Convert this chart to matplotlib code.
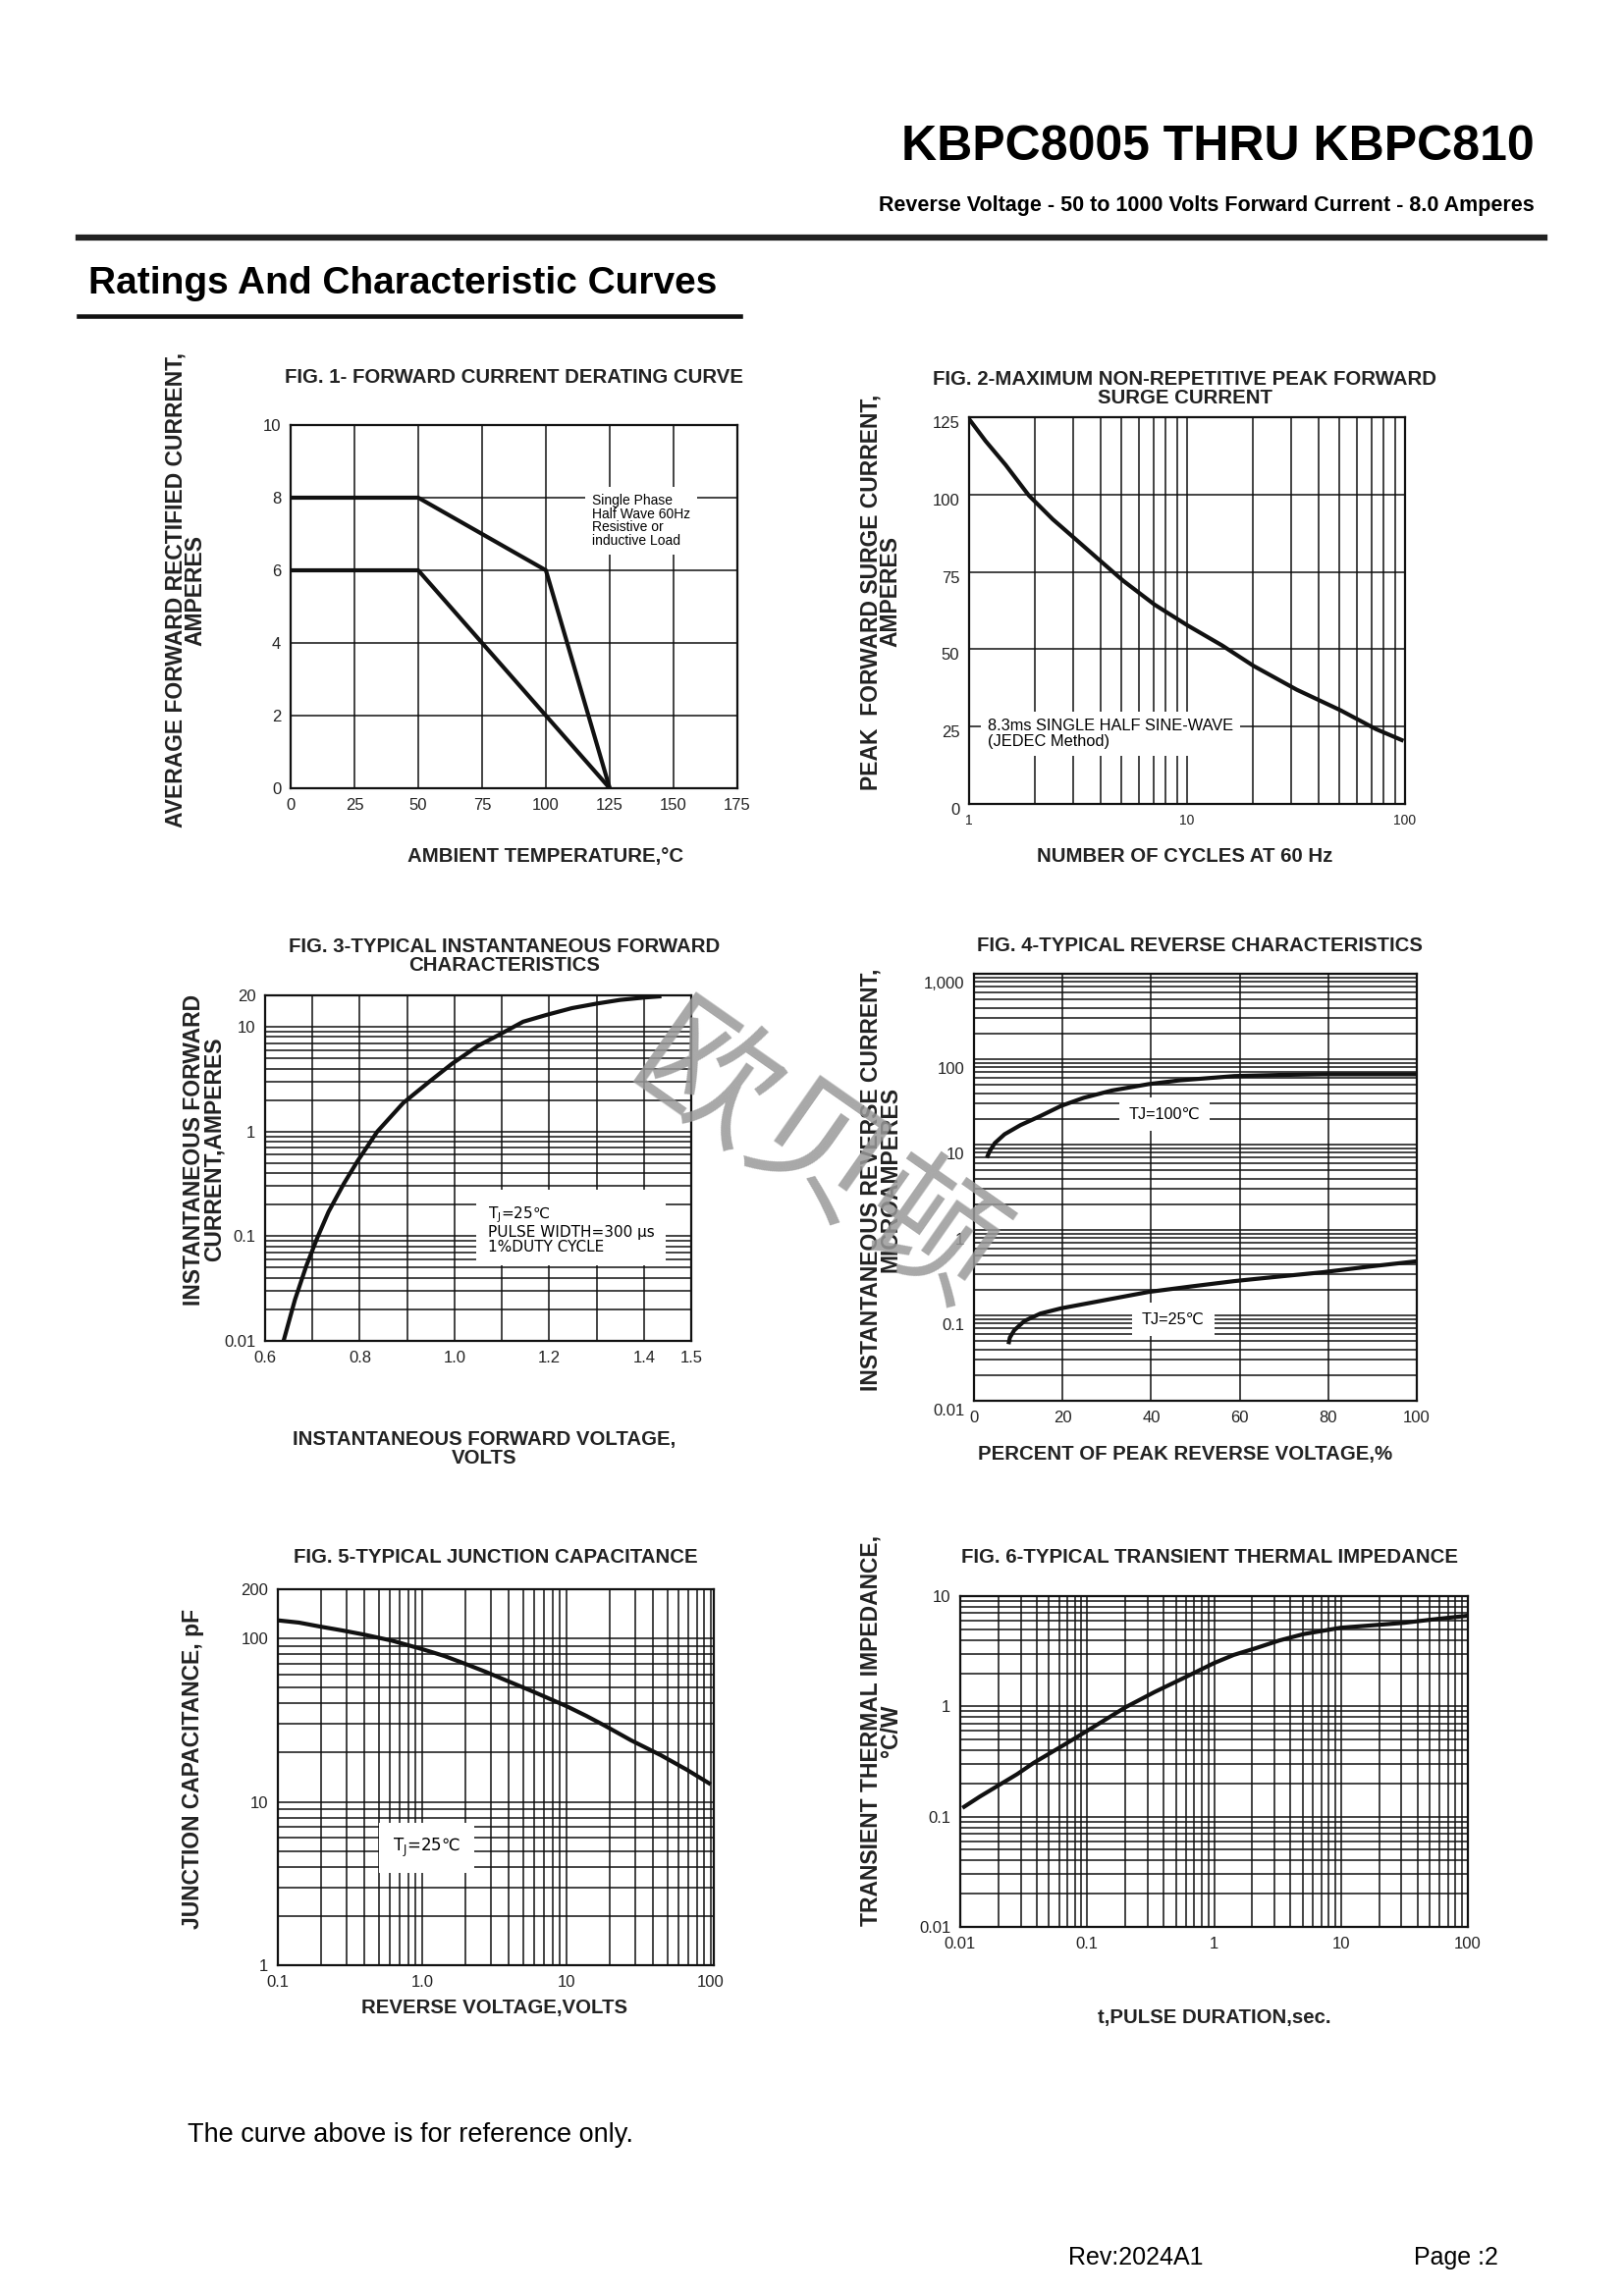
import numpy as np
import matplotlib
matplotlib.use("Agg")
import matplotlib.pyplot as plt
from matplotlib.lines import Line2D
from matplotlib.ticker import LogLocator, NullFormatter, FixedLocator
from matplotlib.transforms import ScaledTranslation

plt.rcParams['font.family'] = ['Liberation Sans', 'DejaVu Sans']

W, H = 1653, 2339

# ---- data ----
# Fig.1 derating
temp_a = [0, 50, 100, 125]
amps_a = [8, 8, 6, 0]
temp_b = [0, 50, 125]
amps_b = [6, 6, 0]
fig1_xticks = [0, 25, 50, 75, 100, 125, 150, 175]
fig1_yticks = [0, 2, 4, 6, 8, 10]

# Fig.2 surge current
cycles = [1, 1.19, 1.47, 1.88, 2.42, 3.1, 3.98, 5.1, 7.1, 10, 14.5, 20.2, 31.9, 50.5, 73.5, 98.4]
surge = [124.4, 117.3, 109.6, 99.7, 92, 85.4, 78.7, 72.1, 64.4, 57.8, 51.2, 44.6, 36.9, 30.3, 24.2, 20.4]
fig2_xticks = [1, 10, 100]
fig2_yticks = [0, 25, 50, 75, 100, 125]

# Fig.3 forward characteristics
vf = [0.639, 0.663, 0.687, 0.710, 0.734, 0.766, 0.795, 0.837, 0.892, 0.947, 0.995,
      1.05, 1.092, 1.145, 1.194, 1.248, 1.301, 1.35, 1.403, 1.437]
if_amps = [0.01, 0.0247, 0.052, 0.096, 0.171, 0.316, 0.52, 1.0, 1.88, 3.0, 4.45,
           6.6, 8.3, 11.2, 13, 15.1, 16.7, 18.1, 19.1, 19.6]
fig3_xticks = [0.6, 0.8, 1.0, 1.2, 1.4, 1.5]
fig3_xgrid = [0.7, 0.9, 1.1, 1.3]
fig3_yticks = [0.01, 0.1, 1, 10, 20]
fig3_ylabels = ['0.01', '0.1', '1', '10', '20']

# Fig.4 reverse characteristics
pct_100 = [2.9, 3.5, 4.7, 6.9, 10.5, 15.0, 19.7, 24.8, 31.1, 39.4, 46.3, 58.8, 68.7, 78.8, 100]
ir_100 = [7.0, 8.3, 10.4, 13.2, 16.9, 21.6, 28.4, 35.3, 42.9, 51, 56.4, 63.4, 65.3, 66.5, 66.5]
pct_25 = [7.8, 8.1, 9.1, 11.4, 15.0, 19.7, 28.4, 39.4, 49, 58.8, 68.7, 78.8, 89.3, 100]
ir_25 = [0.046, 0.055, 0.067, 0.086, 0.105, 0.121, 0.147, 0.188, 0.218, 0.252, 0.284, 0.32, 0.373, 0.43]
fig4_xticks = [0, 20, 40, 60, 80, 100]
fig4_yticks = [0.01, 0.1, 1, 10, 100, 1000]
fig4_ylabels = ['0.01', '0.1', '1', '10', '100', '1,000']

# Fig.5 junction capacitance
vr = [0.1, 0.14, 0.198, 0.278, 0.386, 0.621, 1.0, 1.43, 1.98, 2.75, 3.7, 5.96, 10,
      13.7, 18.5, 28, 45, 68.4, 100]
cj = [129, 125, 118, 112, 106, 96.8, 86, 78, 70, 62.5, 56, 47, 38.5,
      33.6, 29.2, 23.8, 19.3, 15.7, 12.8]
fig5_xticks = [0.1, 1, 10, 100]
fig5_xlabels = ['0.1', '1.0', '10', '100']
fig5_yticks = [1, 10, 100, 200]
fig5_ylabels = ['1', '10', '100', '200']

# Fig.6 transient thermal impedance
t_pulse = [0.0104, 0.01426, 0.020, 0.0281, 0.038, 0.062, 0.1, 0.143, 0.2, 0.34, 0.6,
           1.0, 1.43, 2.08, 3.27, 5.1, 10, 18.6, 31.5, 57.7, 100]
zth = [0.12, 0.152, 0.192, 0.243, 0.308, 0.43, 0.60, 0.773, 0.98, 1.35, 1.85,
       2.47, 2.93, 3.34, 3.96, 4.53, 5.17, 5.46, 5.73, 6.21, 6.64]
fig6_xticks = [0.01, 0.1, 1, 10, 100]
fig6_xlabels = ['0.01', '0.1', '1', '10', '100']
fig6_yticks = [0.01, 0.1, 1, 10]
fig6_ylabels = ['0.01', '0.1', '1', '10']

fig = plt.figure(figsize=(W / 100, H / 100), dpi=100)


def fx(px):
    return px / W


def fy(py):
    return 1 - py / H


def make_axes(l, r, t, b):
    ax = fig.add_axes([fx(l), fy(b), (r - l) / W, (b - t) / H])
    for s in ax.spines.values():
        s.set_linewidth(1.6)
        s.set_color('#111111')
    ax.tick_params(which='both', length=0, labelsize=12, colors='#222222', pad=7)
    ax.set_axisbelow(True)
    return ax


def log_minor(axis):
    axis.set_minor_locator(LogLocator(base=10, subs=np.arange(2, 10), numticks=20))
    axis.set_minor_formatter(NullFormatter())


def shift_ylabels(ax, dy_px):
    off = ScaledTranslation(0, -dy_px / 100, fig.dpi_scale_trans)
    for lbl in ax.get_yticklabels():
        lbl.set_transform(lbl.get_transform() + off)


GRID = dict(color='#111111', linewidth=1.1)
CURVE = dict(color='#111111', linewidth=3.0, solid_joinstyle='round', solid_capstyle='butt')
BOX = dict(facecolor='white', edgecolor='none', pad=5)
TJ = dict(family=['DejaVu Sans'])

# ---------- header ----------
fig.text(fx(1563), fy(150), "KBPC8005 THRU KBPC810", ha='right', va='center',
         fontsize=36, fontweight='bold')
fig.text(fx(1563), fy(209), "Reverse Voltage - 50 to 1000 Volts Forward Current - 8.0 Amperes",
         ha='right', va='center', fontsize=15.5, fontweight='bold')
fig.add_artist(Line2D([fx(80), fx(1573)], [fy(242), fy(242)], color='#222222',
                      linewidth=4.5, transform=fig.transFigure))
fig.text(fx(90), fy(289), "Ratings And Characteristic Curves", ha='left', va='center',
         fontsize=28, fontweight='bold')
fig.add_artist(Line2D([fx(80), fx(754)], [fy(322), fy(322)], color='#111111',
                      linewidth=3.3, transform=fig.transFigure))

# ---------- Fig 1 ----------
ax1 = make_axes(296, 751, 433, 803)
ax1.plot(temp_a, amps_a, **CURVE)
ax1.plot(temp_b, amps_b, **CURVE)
ax1.set_xlim(0, 175)
ax1.set_ylim(0, 10)
ax1.set_xticks(fig1_xticks)
ax1.set_yticks(fig1_yticks)
ax1.grid(True, **GRID)
ax1.text(118, 8.1, "Single Phase\nHalf Wave 60Hz\nResistive or\ninductive Load",
         fontsize=10, va='top', ha='left', linespacing=0.95, bbox=BOX)

# ---------- Fig 2 ----------
ax2 = make_axes(987, 1431, 425, 819)
ax2.plot(cycles, surge, **CURVE)
ax2.set_xscale('log')
ax2.set_xlim(1, 100)
ax2.set_ylim(0, 125)
ax2.set_xticks(fig2_xticks)
ax2.set_xticklabels(['1', '10', '100'])
log_minor(ax2.xaxis)
ax2.set_yticks(fig2_yticks)
ax2.tick_params(axis='x', labelsize=10)
ax2.grid(True, which='both', **GRID)
shift_ylabels(ax2, 5)
ax2.text(1.22, 27.5, "8.3ms SINGLE HALF SINE-WAVE\n(JEDEC Method)", fontsize=11.8,
         va='top', ha='left', linespacing=1.05, bbox=BOX)

# ---------- Fig 3 ----------
ax3 = make_axes(270, 704, 1014, 1366)
ax3.plot(vf, if_amps, **CURVE)
ax3.set_yscale('log')
ax3.set_xlim(0.6, 1.5)
ax3.set_ylim(0.01, 20)
ax3.xaxis.set_major_locator(FixedLocator(fig3_xticks))
ax3.xaxis.set_minor_locator(FixedLocator(fig3_xgrid))
ax3.set_yticks(fig3_yticks)
ax3.set_yticklabels(fig3_ylabels)
log_minor(ax3.yaxis)
ax3.grid(True, which='both', **GRID)
ax3.text(1.07, 0.2, "T$_\\mathregular{J}$=25\u2103\nPULSE WIDTH=300 \u03bcs\n1%DUTY CYCLE",
         fontsize=11, va='top', ha='left', linespacing=1.0, bbox=dict(BOX, pad=8), **TJ)

# ---------- Fig 4 ----------
ax4 = make_axes(992, 1443, 992, 1427)
ax4.plot(pct_100, ir_100, **CURVE)
ax4.plot(pct_25, ir_25, **CURVE)
ax4.set_yscale('log')
ax4.set_xlim(0, 100)
ax4.set_ylim(0.01, 1000)
ax4.set_xticks(fig4_xticks)
ax4.set_yticks(fig4_yticks)
ax4.set_yticklabels(fig4_ylabels)
log_minor(ax4.yaxis)
ax4.grid(True, which='both', **GRID)
shift_ylabels(ax4, 9)
ax4.text(43, 22.7, "TJ=100\u2103", fontsize=11.7, ha='center', va='center',
         bbox=dict(BOX, pad=7))
ax4.text(45, 0.09, "TJ=25\u2103", fontsize=11.7, ha='center', va='center',
         bbox=dict(BOX, pad=7))

# ---------- Fig 5 ----------
ax5 = make_axes(283, 727, 1619, 2002)
ax5.plot(vr, cj, **CURVE)
ax5.set_xscale('log')
ax5.set_yscale('log')
ax5.set_xlim(0.1, 105)
ax5.set_ylim(1, 200)
ax5.set_xticks(fig5_xticks)
ax5.set_xticklabels(fig5_xlabels)
ax5.set_yticks(fig5_yticks)
ax5.set_yticklabels(fig5_ylabels)
log_minor(ax5.xaxis)
log_minor(ax5.yaxis)
ax5.grid(True, which='both', **GRID)
ax5.text(1.07, 5.2, "T$_\\mathregular{J}$=25\u2103", fontsize=12, ha='center', va='center',
         bbox=dict(BOX, pad=10), **TJ)

# ---------- Fig 6 ----------
ax6 = make_axes(978, 1495, 1626, 1963)
ax6.plot(t_pulse, zth, **CURVE)
ax6.set_xscale('log')
ax6.set_yscale('log')
ax6.set_xlim(0.01, 100)
ax6.set_ylim(0.01, 10)
ax6.set_xticks(fig6_xticks)
ax6.set_xticklabels(fig6_xlabels)
ax6.set_yticks(fig6_yticks)
ax6.set_yticklabels(fig6_ylabels)
log_minor(ax6.xaxis)
log_minor(ax6.yaxis)
ax6.grid(True, which='both', **GRID)

# ---------- titles and axis labels ----------
titles = [
    (524, 385, "FIG. 1- FORWARD CURRENT DERATING CURVE"),
    (1207, 396, "FIG. 2-MAXIMUM NON-REPETITIVE PEAK FORWARD\nSURGE CURRENT"),
    (514, 974, "FIG. 3-TYPICAL INSTANTANEOUS FORWARD\nCHARACTERISTICS"),
    (1222, 963, "FIG. 4-TYPICAL REVERSE CHARACTERISTICS"),
    (505, 1587, "FIG. 5-TYPICAL JUNCTION CAPACITANCE"),
    (1232, 1587, "FIG. 6-TYPICAL TRANSIENT THERMAL IMPEDANCE"),
]
for x, y, s in titles:
    fig.text(fx(x), fy(y), s, ha='center', va='center', fontsize=14.7,
             fontweight='bold', linespacing=1.02, color='#222222')

xlabels = [
    (556, 872, "AMBIENT TEMPERATURE,\u00b0C"),
    (1207, 873, "NUMBER OF CYCLES AT 60 Hz"),
    (493, 1476, "INSTANTANEOUS FORWARD VOLTAGE,\nVOLTS"),
    (1207, 1482, "PERCENT OF PEAK REVERSE VOLTAGE,%"),
    (503, 2046, "REVERSE VOLTAGE,VOLTS"),
    (1237, 2056, "t,PULSE DURATION,sec."),
]
for x, y, s in xlabels:
    fig.text(fx(x), fy(y), s, ha='center', va='center', fontsize=14.7,
             fontweight='bold', linespacing=1.02, color='#222222')

ylabels = [
    (189, 601, "AVERAGE FORWARD RECTIFIED CURRENT,\nAMPERES"),
    (897, 603, "PEAK  FORWARD SURGE CURRENT,\nAMPERES"),
    (208, 1171, "INSTANTANEOUS FORWARD\nCURRENT,AMPERES"),
    (897, 1202, "INSTANTANEOUS REVERSE CURRENT,\nMICROAMPERES"),
    (197, 1802, "JUNCTION CAPACITANCE, pF"),
    (897, 1763, "TRANSIENT THERMAL IMPEDANCE,\n\u00b0C/W"),
]
for x, y, s in ylabels:
    fig.text(fx(x), fy(y), s, ha='center', va='center', fontsize=16.5,
             fontweight='bold', rotation=90, linespacing=0.85, color='#222222')

# ---------- watermark ----------
fig.text(fx(830), fy(1185), "欧贝顿", ha='center', va='center', rotation=-35,
         fontsize=100, color='#999999', alpha=0.85,
         family=['Noto Sans CJK SC', 'DejaVu Sans'], zorder=20)

# ---------- footer ----------
fig.text(fx(191), fy(2175), "The curve above is for reference only.", ha='left',
         va='center', fontsize=19.5)
fig.text(fx(1088), fy(2300), "Rev:2024A1", ha='left', va='center', fontsize=18)
fig.text(fx(1440), fy(2300), "Page :2", ha='left', va='center', fontsize=18)

fig.savefig("out.png", dpi=100, facecolor='white')
